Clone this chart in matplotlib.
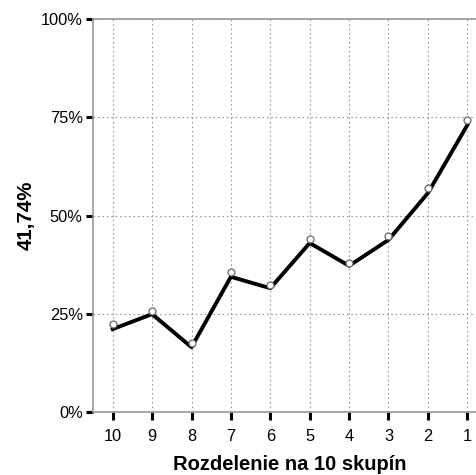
import matplotlib.pyplot as plt
import numpy as np

plt.rcParams["font.family"] = "Liberation Sans"

groups = ['10', '9', '8', '7', '6', '5', '4', '3', '2', '1']
line_vals = [21.1, 24.9, 16.5, 34.4, 31.5, 43.0, 37.2, 43.8, 55.7, 73.0]
point_vals = [22.4, 25.7, 17.6, 35.6, 32.3, 44.0, 37.9, 44.8, 57.0, 74.3]
y_ticks = [0, 25, 50, 75, 100]
y_labels = ['0%', '25%', '50%', '75%', '100%']

fig = plt.figure(figsize=(4.77, 4.75), dpi=100)
ax = fig.add_axes([93/477, 63/475, 394/477, 393/475])

x = np.arange(1, len(groups) + 1)
ax.plot(x, line_vals, color='black', linewidth=2.8, zorder=3)
ax.plot(x, point_vals, linestyle='none', marker='o', markersize=5,
        markerfacecolor='white', markeredgecolor='#666666', markeredgewidth=0.9, zorder=4)

ax.set_xlim(0.5, 10.5)
ax.set_ylim(0, 100)
ax.set_xticks(x)
ax.set_xticklabels(groups, fontsize=11.8)
ax.set_yticks(y_ticks)
ax.set_yticklabels(y_labels, fontsize=11.8)
ax.tick_params(axis='both', length=5.4, width=2.2, color='black')
ax.tick_params(axis='x', pad=6.5)
ax.tick_params(axis='y', pad=2)

ax.grid(True, linestyle=(0, (1.5, 2.5)), color='#999999', linewidth=0.8)
ax.axhline(100, color='#999999', linewidth=1.2, clip_on=False)

for s in ['top', 'right']:
    ax.spines[s].set_visible(False)
ax.spines['left'].set_color('#999999')
ax.spines['bottom'].set_color('#999999')
ax.spines['left'].set_linewidth(1.2)
ax.spines['bottom'].set_linewidth(1.2)

ax.set_xlabel('Rozdelenie na 10 skupín', fontsize=14.5, fontweight='bold', labelpad=8)
ax.set_ylabel('41,74%', fontsize=14.8, fontweight='bold', labelpad=4)

plt.savefig('out.png', dpi=100)
